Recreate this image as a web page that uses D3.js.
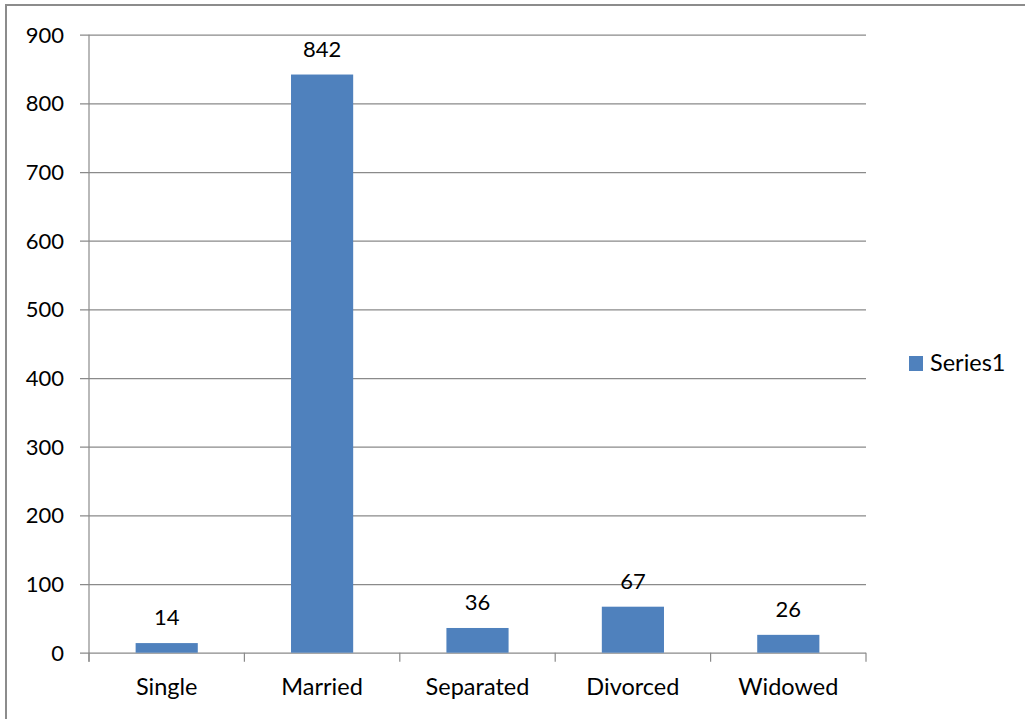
<!DOCTYPE html>
<html>
<head>
<meta charset="utf-8">
<script src="https://cdn.jsdelivr.net/npm/d3@7"></script>
<style>
  html, body { margin: 0; padding: 0; background: #fff; }
  svg { display: block; }
  text { font-family: Lato, "Open Sans", sans-serif; fill: #000; }
</style>
</head>
<body>
<svg id="chart" width="1025" height="719"></svg>
<script>
// Marital status counts
const categories = ["Single", "Married", "Separated", "Divorced", "Widowed"];
const values = [14, 842, 36, 67, 26];
const yTicks = [0, 100, 200, 300, 400, 500, 600, 700, 800, 900];
const seriesName = "Series1";

const svg = d3.select("#chart");
const W = 1025, H = 719;
const plot = { left: 89, right: 866, top: 34.7, bottom: 652.7 };

// Outer frame: left and top edges
svg.append("path")
  .attr("d", `M6,${H} L6,5 L${W},5`)
  .attr("fill", "none")
  .attr("stroke", "#8c8c8c")
  .attr("stroke-width", 2);

const x = d3.scaleBand()
  .domain(categories)
  .range([plot.left, plot.right])
  .paddingInner(0.6)
  .paddingOuter(0.3);

const y = d3.scaleLinear()
  .domain([0, 900])
  .range([plot.bottom, plot.top]);

// Horizontal gridlines with left tick stubs
const yAxis = d3.axisLeft(y)
  .tickValues(yTicks)
  .tickSize(-(plot.right - plot.left))
  .tickPadding(0)
  .tickFormat("");
const gy = svg.append("g")
  .attr("transform", `translate(${plot.left},0)`)
  .call(yAxis);
gy.select(".domain").remove();
gy.selectAll(".tick line")
  .attr("x1", -9)
  .attr("stroke", "#8a8a8a")
  .attr("stroke-width", 1.2);

// Y tick labels
svg.append("g").selectAll("text")
  .data(yTicks)
  .join("text")
  .attr("x", 64)
  .attr("y", d => y(d))
  .attr("dy", "0.36em")
  .attr("text-anchor", "end")
  .attr("font-size", 22)
  .text(d => d);

// Vertical axis line
svg.append("line")
  .attr("x1", plot.left).attr("x2", plot.left)
  .attr("y1", y(900)).attr("y2", plot.bottom + 9)
  .attr("stroke", "#8a8a8a")
  .attr("stroke-width", 1.2);

// Category boundary ticks on the x-axis
const step = x.step();
const bounds = d3.range(categories.length + 1).map(i => plot.left + i * step);
svg.append("g").selectAll("line")
  .data(bounds)
  .join("line")
  .attr("x1", d => d).attr("x2", d => d)
  .attr("y1", plot.bottom).attr("y2", plot.bottom + 9)
  .attr("stroke", "#8a8a8a")
  .attr("stroke-width", 1.2);

// Bars
svg.append("g").selectAll("rect")
  .data(values)
  .join("rect")
  .attr("x", (d, i) => x(categories[i]))
  .attr("y", d => y(d))
  .attr("width", x.bandwidth())
  .attr("height", d => plot.bottom - y(d))
  .attr("fill", "#4f81bd");

// Value labels
svg.append("g").selectAll("text")
  .data(values)
  .join("text")
  .attr("x", (d, i) => x(categories[i]) + x.bandwidth() / 2)
  .attr("y", d => y(d) - 18)
  .attr("text-anchor", "middle")
  .attr("font-size", 22)
  .text(d => d);

// Category labels
svg.append("g").selectAll("text")
  .data(categories)
  .join("text")
  .attr("x", d => x(d) + x.bandwidth() / 2)
  .attr("y", 695)
  .attr("text-anchor", "middle")
  .attr("font-size", 23.5)
  .text(d => d);

// Legend
const lg = svg.append("g").attr("transform", "translate(909,356)");
lg.append("rect").attr("width", 14).attr("height", 15).attr("fill", "#4f81bd");
lg.append("text").attr("x", 21).attr("y", 14.5).attr("font-size", 23.5).text(seriesName);
</script>
</body>
</html>
